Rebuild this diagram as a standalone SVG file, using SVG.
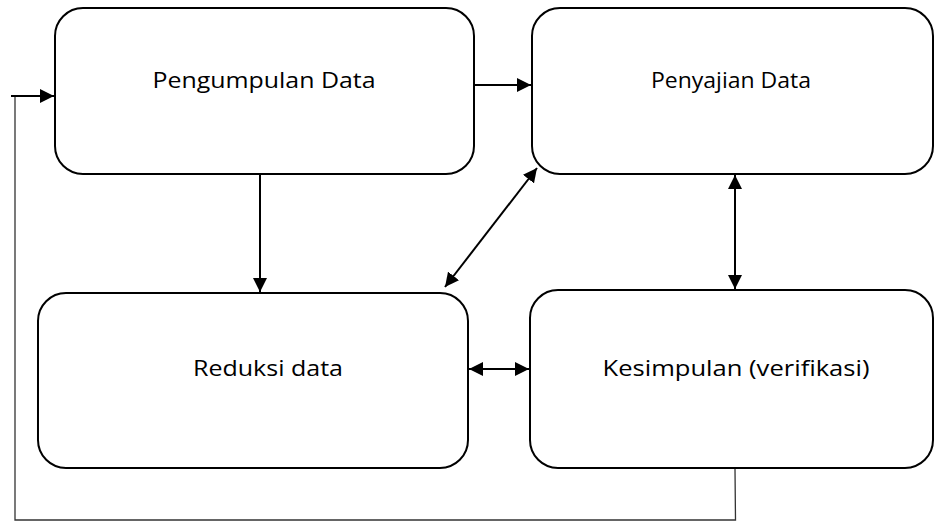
<svg xmlns="http://www.w3.org/2000/svg" width="935" height="531" viewBox="0 0 935 531">
<style>
.box{fill:#fff;stroke:#000;stroke-width:2}
.lbl{font-family:"Open Sans","Noto Sans","Liberation Sans",sans-serif;font-size:22px;fill:#000;text-anchor:middle}
.c{fill:none;stroke:#000;stroke-width:2}
.fb{fill:none;stroke:#333;stroke-width:1.3}
</style>
<defs>
<marker id="ah" viewBox="0 0 10 10" refX="10" refY="5" markerWidth="7" markerHeight="7" markerUnits="userSpaceOnUse" orient="auto-start-reverse">
<path d="M0,0 L10,5 L0,10 z" fill="#000"/>
</marker>
<marker id="ah2" viewBox="0 0 10 10" refX="10" refY="5" markerWidth="14" markerHeight="14" markerUnits="userSpaceOnUse" orient="auto-start-reverse">
<path d="M0,0 L10,5 L0,10 z" fill="#000"/>
</marker>
</defs>
<g id="n1"><rect class="box" x="55" y="8" width="419" height="166" rx="28"/><text class="lbl" x="264" y="88" textLength="223" lengthAdjust="spacingAndGlyphs">Pengumpulan Data</text></g>
<g id="n2"><rect class="box" x="532" y="8" width="401" height="166" rx="28"/><text class="lbl" x="731" y="88" textLength="160" lengthAdjust="spacingAndGlyphs">Penyajian Data</text></g>
<g id="n3"><rect class="box" x="38" y="293" width="430" height="175" rx="28"/><text class="lbl" x="268" y="376" textLength="150" lengthAdjust="spacingAndGlyphs">Reduksi data</text></g>
<g id="n4"><rect class="box" x="530" y="290" width="403" height="178" rx="28"/><text class="lbl" x="736" y="376" textLength="267" lengthAdjust="spacingAndGlyphs">Kesimpulan (verifikasi)</text></g>
<g id="connectors">
<line class="c" x1="474" y1="85" x2="531" y2="85" marker-end="url(#ah2)"/>
<line class="c" x1="260" y1="174" x2="260" y2="292" marker-end="url(#ah2)"/>
<line class="c" x1="537" y1="168" x2="445" y2="287" marker-start="url(#ah2)" marker-end="url(#ah2)"/>
<line class="c" x1="735" y1="175" x2="735" y2="289" marker-start="url(#ah2)" marker-end="url(#ah2)"/>
<line class="c" x1="469" y1="369" x2="529" y2="369" marker-start="url(#ah2)" marker-end="url(#ah2)"/>
<polyline class="fb" points="735,469 735.5,520 15,520 15,97"/>
<line class="c" x1="11" y1="96" x2="54" y2="96" marker-end="url(#ah2)"/>
</g>
</svg>
